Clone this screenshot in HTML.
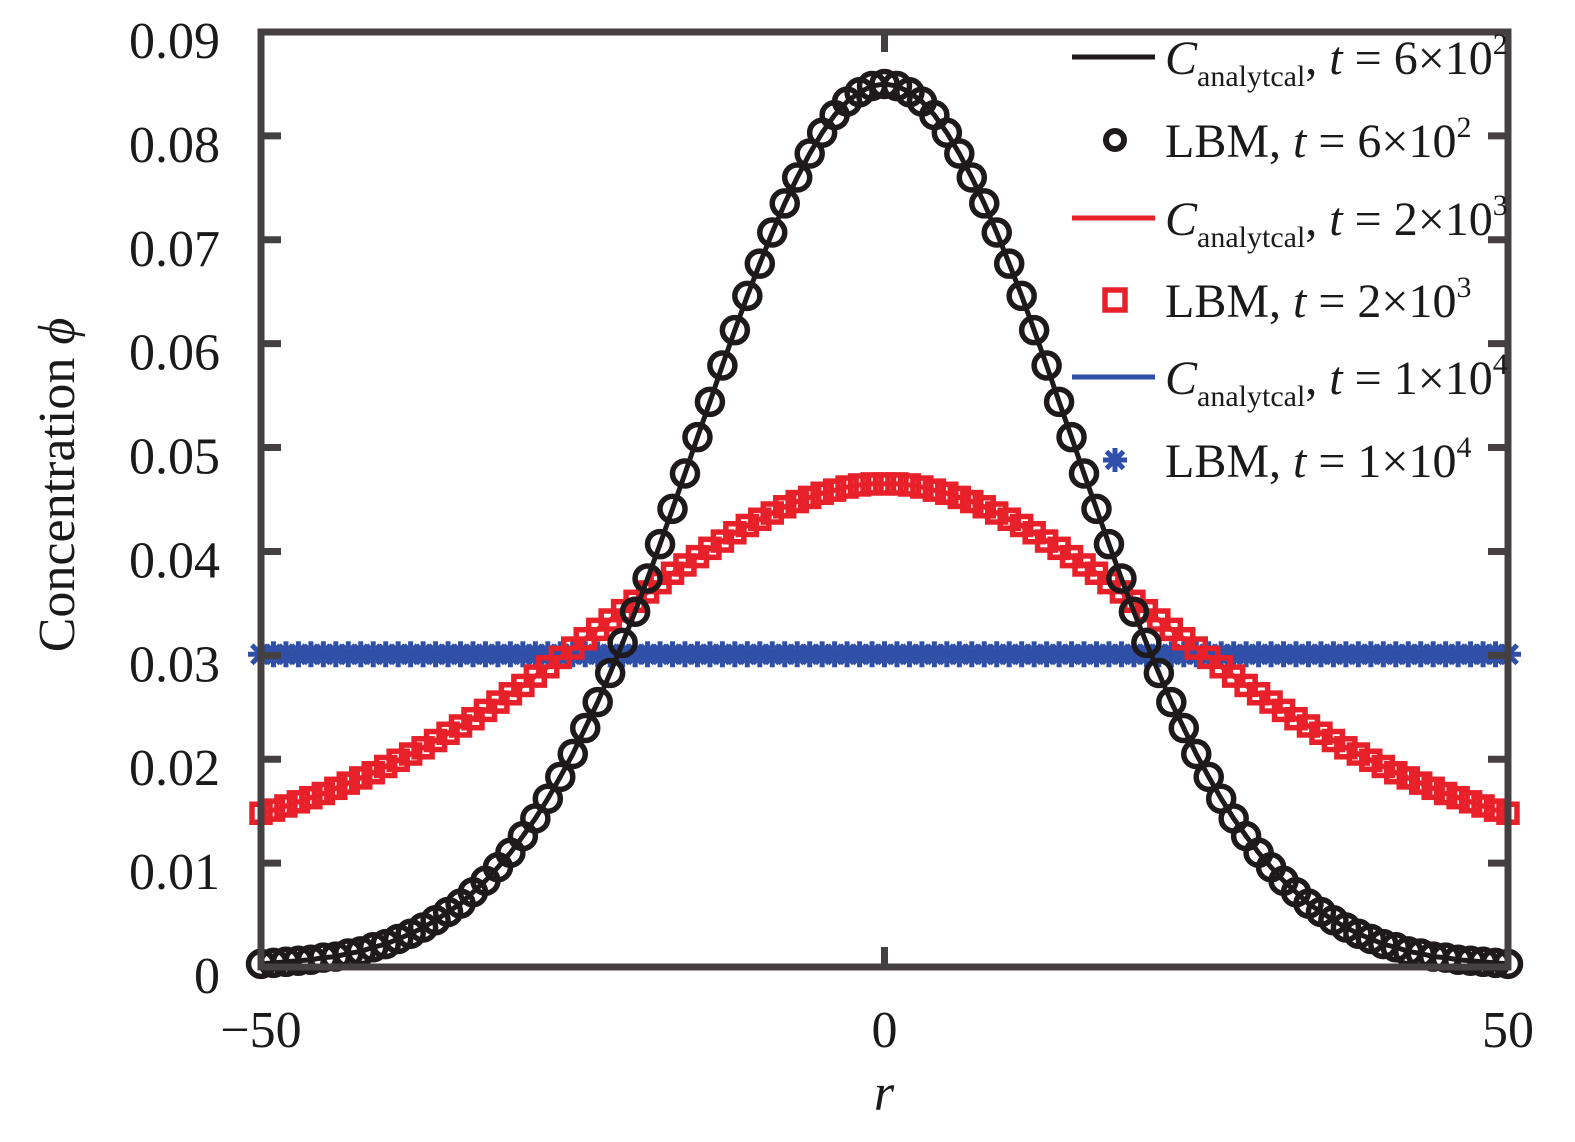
<!DOCTYPE html>
<html><head><meta charset="utf-8"><style>
html,body{margin:0;padding:0;background:#fff;}
svg{display:block;font-family:"Liberation Serif",serif;}
</style></head><body>
<svg id="chart" width="1575" height="1142" viewBox="0 0 1575 1142" xmlns="http://www.w3.org/2000/svg">
<g id="marks"></g>
<g id="axes"></g>
<g id="legend"></g>
</svg>
<script>
const rValues = [-50,-49,-48,-47,-46,-45,-44,-43,-42,-41,-40,-39,-38,-37,-36,-35,-34,-33,-32,-31,-30,-29,-28,-27,-26,-25,-24,-23,-22,-21,-20,-19,-18,-17,-16,-15,-14,-13,-12,-11,-10,-9,-8,-7,-6,-5,-4,-3,-2,-1,0,1,2,3,4,5,6,7,8,9,10,11,12,13,14,15,16,17,18,19,20,21,22,23,24,25,26,27,28,29,30,31,32,33,34,35,36,37,38,39,40,41,42,43,44,45,46,47,48,49,50];
const phiT600 = [0.0003,0.0004,0.0005,0.0006,0.0007,0.0009,0.0010,0.0013,0.0015,0.0019,0.0022,0.0027,0.0032,0.0038,0.0045,0.0053,0.0061,0.0072,0.0083,0.0096,0.0110,0.0126,0.0143,0.0162,0.0183,0.0205,0.0230,0.0255,0.0283,0.0312,0.0342,0.0374,0.0407,0.0441,0.0475,0.0510,0.0544,0.0579,0.0613,0.0646,0.0677,0.0707,0.0735,0.0760,0.0783,0.0803,0.0820,0.0833,0.0842,0.0848,0.0850,0.0848,0.0842,0.0833,0.0820,0.0803,0.0783,0.0760,0.0735,0.0707,0.0677,0.0646,0.0613,0.0579,0.0544,0.0510,0.0475,0.0441,0.0407,0.0374,0.0342,0.0312,0.0283,0.0255,0.0230,0.0205,0.0183,0.0162,0.0143,0.0126,0.0110,0.0096,0.0083,0.0072,0.0061,0.0053,0.0045,0.0038,0.0032,0.0027,0.0022,0.0019,0.0015,0.0013,0.0010,0.0009,0.0007,0.0006,0.0005,0.0004,0.0003];
const phiT2000 = [0.0148,0.0151,0.0155,0.0159,0.0163,0.0167,0.0172,0.0177,0.0182,0.0187,0.0193,0.0199,0.0205,0.0211,0.0218,0.0225,0.0232,0.0239,0.0247,0.0255,0.0263,0.0271,0.0280,0.0289,0.0298,0.0307,0.0316,0.0325,0.0334,0.0343,0.0352,0.0361,0.0370,0.0379,0.0387,0.0395,0.0403,0.0410,0.0418,0.0425,0.0431,0.0437,0.0443,0.0448,0.0452,0.0456,0.0459,0.0462,0.0464,0.0465,0.0465,0.0465,0.0464,0.0462,0.0459,0.0456,0.0452,0.0448,0.0443,0.0437,0.0431,0.0425,0.0418,0.0410,0.0403,0.0395,0.0387,0.0379,0.0370,0.0361,0.0352,0.0343,0.0334,0.0325,0.0316,0.0307,0.0298,0.0289,0.0280,0.0271,0.0263,0.0255,0.0247,0.0239,0.0232,0.0225,0.0218,0.0211,0.0205,0.0199,0.0193,0.0187,0.0182,0.0177,0.0172,0.0167,0.0163,0.0159,0.0155,0.0151,0.0148];
const phiT10000 = [0.0301,0.0301,0.0301,0.0301,0.0301,0.0301,0.0301,0.0301,0.0301,0.0301,0.0301,0.0301,0.0301,0.0301,0.0301,0.0301,0.0301,0.0301,0.0301,0.0301,0.0301,0.0301,0.0301,0.0301,0.0301,0.0301,0.0301,0.0301,0.0301,0.0301,0.0301,0.0301,0.0301,0.0301,0.0301,0.0301,0.0301,0.0301,0.0301,0.0301,0.0301,0.0301,0.0301,0.0301,0.0301,0.0301,0.0301,0.0301,0.0301,0.0301,0.0301,0.0301,0.0301,0.0301,0.0301,0.0301,0.0301,0.0301,0.0301,0.0301,0.0301,0.0301,0.0301,0.0301,0.0301,0.0301,0.0301,0.0301,0.0301,0.0301,0.0301,0.0301,0.0301,0.0301,0.0301,0.0301,0.0301,0.0301,0.0301,0.0301,0.0301,0.0301,0.0301,0.0301,0.0301,0.0301,0.0301,0.0301,0.0301,0.0301,0.0301,0.0301,0.0301,0.0301,0.0301,0.0301,0.0301,0.0301,0.0301,0.0301,0.0301];
const yTicks = [0,0.01,0.02,0.03,0.04,0.05,0.06,0.07,0.08,0.09];
const yTickLabels = ["0","0.01","0.02","0.03","0.04","0.05","0.06","0.07","0.08","0.09"];
const xTicks = [-50,0,50];
const xTickLabels = ["\u221250","0","50"];

const NS="http://www.w3.org/2000/svg";
const L=261,R=1508,T=32,B=967;
function xs(v){return L+(v+50)/100*(R-L);}
function ys(v){return B-v/0.09*(B-T);}
function mk(tag,attrs,parent){const e=document.createElementNS(NS,tag);for(const k in attrs)e.setAttribute(k,attrs[k]);parent.appendChild(e);return e;}
const marks=document.getElementById('marks'),axes=document.getElementById('axes'),legend=document.getElementById('legend');
const BLACK="#1e1a1b",RED="#e8202a",BLUE="#3050a8",AX="#444042";

function linePath(vals){return vals.map((v,i)=>(i?'L':'M')+xs(rValues[i]).toFixed(2)+','+ys(v).toFixed(2)).join('');}
function asterisk(cx,cy,s,parent){
  const g=mk('g',{},parent);
  for(let a=0;a<4;a++){const ang=a*Math.PI/4;
    mk('line',{x1:cx-s*Math.cos(ang),y1:cy-s*Math.sin(ang),x2:cx+s*Math.cos(ang),y2:cy+s*Math.sin(ang),stroke:BLUE,'stroke-width':5},g);}
  return g;
}
// blue
let p=mk('path',{d:linePath(phiT10000),fill:'none',stroke:BLUE,'stroke-width':5},marks);


phiT10000.forEach((v,i)=>{const g=asterisk(xs(rValues[i]),ys(v),13,marks);
  
  });
// red
p=mk('path',{d:linePath(phiT2000),fill:'none',stroke:RED,'stroke-width':5},marks);


phiT2000.forEach((v,i)=>{const e=mk('rect',{x:xs(rValues[i])-9,y:ys(v)-9,width:18,height:18,fill:'none',stroke:RED,'stroke-width':5.5},marks);
  
  });
// black
p=mk('path',{d:linePath(phiT600),fill:'none',stroke:BLACK,'stroke-width':5},marks);


phiT600.forEach((v,i)=>{const e=mk('circle',{cx:xs(rValues[i]),cy:ys(v),r:12.5,fill:'none',stroke:BLACK,'stroke-width':5.5},marks);
  
  });

// axes box
let box=mk('rect',{x:L,y:T,width:R-L,height:B-T,fill:'none',stroke:AX,'stroke-width':7},axes);


yTicks.forEach((v,i)=>{
  const y=ys(v);
  mk('line',{x1:L,y1:y,x2:L+20,y2:y,stroke:AX,'stroke-width':7},axes);
  mk('line',{x1:R,y1:y,x2:R-20,y2:y,stroke:AX,'stroke-width':7},axes);
  const t=mk('text',{x:220,y:y+26,'text-anchor':'end','font-size':52,fill:'#1a1a1a'},axes);
  t.textContent=yTickLabels[i];
  
  
});
xTicks.forEach((v,i)=>{
  const x=xs(v);
  mk('line',{x1:x,y1:B,x2:x,y2:B-20,stroke:AX,'stroke-width':7},axes);
  mk('line',{x1:x,y1:T,x2:x,y2:T+20,stroke:AX,'stroke-width':7},axes);
  const t=mk('text',{x:x,y:1047,'text-anchor':'middle','font-size':52,fill:'#1a1a1a'},axes);
  t.textContent=xTickLabels[i];
  
  
});
let xt=mk('text',{x:884,y:1110,'text-anchor':'middle','font-size':52,'font-style':'italic',fill:'#1a1a1a'},axes);
xt.textContent='r';


let yt=mk('text',{x:0,y:0,'text-anchor':'middle','font-size':52,fill:'#1a1a1a',transform:'translate(74,485) rotate(-90)'},axes);
yt.innerHTML='Concentration <tspan font-style="italic">\u03d5</tspan>';



// legend
const rows=[
 {y:57,kind:'line',color:BLACK,lbl:'C',t:'6\u00d710',e:'2'},
 {y:140,kind:'circle',color:BLACK,lbl:'LBM',t:'6\u00d710',e:'2'},
 {y:218,kind:'line',color:RED,lbl:'C',t:'2\u00d710',e:'3'},
 {y:300,kind:'square',color:RED,lbl:'LBM',t:'2\u00d710',e:'3'},
 {y:377,kind:'line',color:BLUE,lbl:'C',t:'1\u00d710',e:'4'},
 {y:460,kind:'star',color:BLUE,lbl:'LBM',t:'1\u00d710',e:'4'}
];
rows.forEach(r=>{
  const g=mk('g',{},legend);
  
  
  if(r.kind==='line') mk('line',{x1:1072,y1:r.y,x2:1155,y2:r.y,stroke:r.color,'stroke-width':5},g);
  else if(r.kind==='circle') mk('circle',{cx:1115,cy:r.y,r:9,fill:'none',stroke:r.color,'stroke-width':6},g);
  else if(r.kind==='square') mk('rect',{x:1105,y:r.y-10,width:20,height:20,fill:'none',stroke:r.color,'stroke-width':5.5},g);
  else asterisk(1115,r.y,12,g);
  const t=mk('text',{x:1165,y:r.y+17,'font-size':48,fill:'#1a1a1a'},g);
  if(r.lbl==='C'){
    t.innerHTML='<tspan font-style="italic">C</tspan><tspan font-size="30" dy="12">analytcal</tspan><tspan dy="-12">, </tspan><tspan font-style="italic">t</tspan> = '+r.t+'<tspan font-size="30" dy="-20">'+r.e+'</tspan>';
  } else {
    t.innerHTML='LBM, <tspan font-style="italic">t</tspan> = '+r.t+'<tspan font-size="30" dy="-20">'+r.e+'</tspan>';
  }
});
</script>
</body></html>
